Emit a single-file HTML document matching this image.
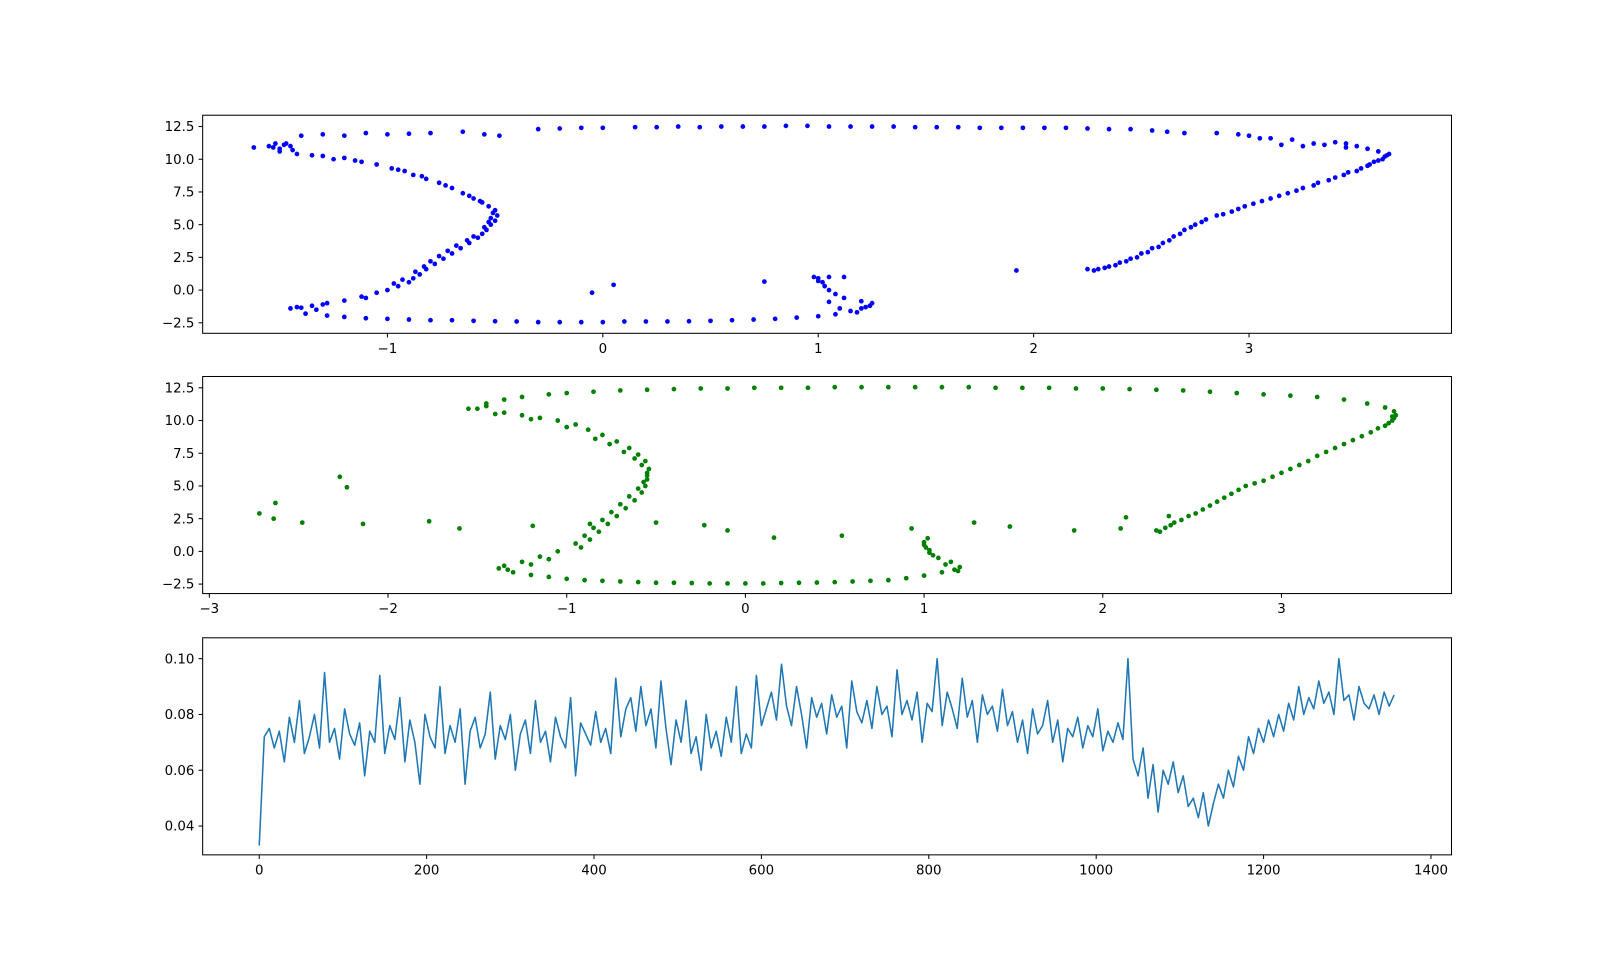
<!DOCTYPE html>
<html><head><meta charset="utf-8"><style>
body{margin:0;background:#fff;}
svg text{font-family:"DejaVu Sans","Liberation Sans",sans-serif;font-size:13px;fill:#000;}
</style></head><body>
<svg id="fig" width="1613" height="961" xmlns="http://www.w3.org/2000/svg"><g id="root" transform="scale(1.0287)"></g></svg>
<script>
// ---- Panel 1 data (blue scatter) ----
const p1x=[-1.62,-1.55,-1.52,-1.5,-1.48,-1.45,-1.5,-1.42,-1.35,-1.3,-1.2,-1.12,-1.05,-0.98,-0.92,-0.88,-0.82,-0.76,-0.7,-0.65,-0.6,-0.56,-0.53,-0.5,-0.49,-0.5,-0.52,-0.54,-0.56,-0.58,-0.62,-0.66,-0.7,-0.74,-0.78,-0.82,-0.85,-0.88,-0.9,-0.95,-1.0,-1.05,-1.12,-1.2,-1.28,-1.35,-1.42,-1.45,-1.38,-1.28,-1.2,-1.1,-1.0,-0.9,-0.8,-0.7,-0.6,-0.5,-0.4,-0.3,-0.2,-0.1,0.0,0.1,0.2,0.3,0.4,0.5,0.6,0.7,0.8,0.9,1.0,1.08,1.15,1.2,1.24,1.25,1.2,1.12,1.08,1.05,1.03,1.02,1.0,0.98,1.05,1.12,
-1.4,-1.3,-1.2,-1.1,-1.0,-0.9,-0.8,-0.65,-0.55,-0.48,-0.3,-0.2,-0.1,0.0,0.15,0.25,0.35,0.45,0.55,0.65,0.75,0.85,0.95,1.05,1.15,1.25,1.35,1.45,1.55,1.65,1.75,1.85,1.95,2.05,2.15,2.25,2.35,2.45,2.55,2.62,2.7,
2.25,2.3,2.35,2.4,2.45,2.5,2.55,2.6,2.65,2.7,2.75,2.8,2.88,2.95,3.02,3.1,3.18,3.25,3.32,3.4,3.46,3.52,3.56,3.6,3.63,3.65,3.6,3.55,3.5,3.45,3.4,3.35,3.25,3.15,3.05,2.95,2.85,3.0,3.1,3.2,3.3,3.45,
-0.05,0.05,0.75,1.92,
-1.47,-1.53,-1.44,-1.25,-1.15,-0.95,-0.84,-0.73,-0.62,-0.57,-0.51,-0.52,-0.53,-0.55,-0.6,-0.63,-0.68,-0.72,-0.76,-0.8,-0.83,-0.87,-0.93,-0.97,-1.1,-1.3,-1.4,-1.33,1.05,1.0,1.1,1.18,1.22,
2.28,2.33,2.38,2.43,2.48,2.53,2.58,2.63,2.68,2.73,2.78,2.85,2.92,2.98,3.06,3.14,3.22,3.3,3.37,3.44,3.5,3.55,3.58,3.62,3.64];
const p1y=[10.9,11.0,11.2,10.8,11.1,11.0,10.6,10.4,10.3,10.25,10.1,9.8,9.6,9.3,9.1,8.8,8.5,8.2,7.8,7.4,7.0,6.7,6.4,6.1,5.7,5.3,5.0,4.6,4.3,4.0,3.6,3.2,2.8,2.4,2.0,1.6,1.2,0.9,0.6,0.3,0.0,-0.2,-0.5,-0.8,-1.0,-1.2,-1.3,-1.4,-1.8,-1.95,-2.05,-2.15,-2.2,-2.25,-2.3,-2.3,-2.35,-2.38,-2.4,-2.45,-2.45,-2.45,-2.45,-2.4,-2.4,-2.4,-2.38,-2.35,-2.3,-2.25,-2.2,-2.1,-2.0,-1.85,-1.6,-1.4,-1.2,-1.0,-0.85,-0.6,-0.3,0.0,0.3,0.6,0.9,1.0,1.0,1.0,
11.8,11.9,11.8,12.0,11.9,11.95,12.0,12.1,11.9,11.8,12.3,12.35,12.4,12.4,12.45,12.45,12.5,12.45,12.5,12.5,12.5,12.55,12.55,12.5,12.5,12.5,12.5,12.45,12.45,12.45,12.4,12.4,12.4,12.4,12.4,12.35,12.3,12.3,12.2,12.1,12.0,
1.6,1.6,1.8,2.1,2.4,2.8,3.2,3.6,4.1,4.6,5.0,5.4,5.8,6.2,6.6,7.0,7.4,7.8,8.2,8.6,9.0,9.3,9.6,9.9,10.2,10.4,10.6,10.8,11.0,11.2,11.3,11.1,11.0,11.1,11.6,11.9,12.0,11.8,11.6,11.5,11.2,10.9,
-0.2,0.4,0.65,1.5,
11.2,10.9,10.7,10.0,9.9,9.2,8.7,8.0,7.2,6.8,5.9,5.5,5.2,4.8,4.1,3.8,3.4,3.0,2.6,2.2,1.8,1.4,0.8,0.5,-0.6,-1.1,-1.35,-1.5,-0.9,0.7,-1.4,-1.7,-1.3,
1.5,1.7,1.9,2.2,2.5,2.9,3.3,3.8,4.3,4.8,5.2,5.7,6.0,6.4,6.8,7.2,7.6,8.0,8.4,8.8,9.1,9.5,9.8,10.0,10.3];
// ---- Panel 2 data (green scatter) ----
const p2x=[-1.55,-1.5,-1.45,-1.35,-1.25,-1.15,-1.05,-0.95,-0.88,-0.8,-0.72,-0.65,-0.6,-0.56,-0.54,-0.55,-0.57,-0.6,-0.65,-0.7,-0.75,-0.8,-0.85,-0.9,-0.95,-1.05,-1.15,-1.25,-1.35,-1.38,-1.3,-1.2,-1.1,-1.0,-0.9,-0.8,-0.7,-0.6,-0.5,-0.4,-0.3,-0.2,-0.1,0.0,0.1,0.2,0.3,0.4,0.5,0.6,0.7,0.8,0.9,1.0,1.1,1.17,1.2,1.15,1.08,1.03,1.01,1.0,1.02,
-1.45,-1.35,-1.25,-1.1,-1.0,-0.85,-0.7,-0.55,-0.4,-0.25,-0.1,0.05,0.2,0.35,0.5,0.65,0.8,0.95,1.1,1.25,1.4,1.55,1.7,1.85,2.0,2.15,2.3,2.45,2.6,2.75,2.9,3.05,3.2,3.35,3.48,3.58,3.63,3.62,
2.3,2.35,2.4,2.48,2.56,2.64,2.72,2.8,2.9,3.0,3.1,3.2,3.3,3.4,3.5,3.58,3.62,3.64,
-2.72,-2.63,-2.64,-2.48,-2.27,-2.23,-2.14,-1.77,-1.6,-1.19,-0.87,-0.5,-0.23,-0.1,0.16,0.54,0.93,1.28,1.48,1.84,2.1,2.13,2.37,
-1.4,-1.2,-1.0,-0.84,-0.76,-0.68,-0.62,-0.58,-0.55,-0.55,-0.56,-0.58,-0.62,-0.67,-0.72,-0.77,-0.82,-0.87,-0.92,-1.1,-1.2,-1.33,1.0,1.03,1.05,1.12,1.19,
2.32,2.38,2.44,2.52,2.6,2.68,2.76,2.85,2.95,3.05,3.15,3.25,3.35,3.45,3.54,3.6,3.63];
const p2y=[10.9,10.9,11.1,10.6,10.4,10.2,10.0,9.7,9.3,8.9,8.4,7.9,7.4,6.9,6.3,5.8,5.3,4.8,4.2,3.6,3.0,2.4,1.8,1.2,0.6,0.0,-0.4,-0.8,-1.1,-1.3,-1.6,-1.8,-1.95,-2.1,-2.2,-2.25,-2.3,-2.35,-2.4,-2.4,-2.42,-2.45,-2.45,-2.45,-2.45,-2.42,-2.4,-2.38,-2.35,-2.3,-2.25,-2.2,-2.05,-1.85,-1.6,-1.4,-1.2,-0.8,-0.5,-0.1,0.3,0.7,1.0,
11.3,11.6,11.8,12.0,12.1,12.2,12.3,12.35,12.4,12.45,12.45,12.5,12.5,12.5,12.55,12.55,12.55,12.55,12.55,12.55,12.5,12.5,12.5,12.45,12.45,12.4,12.35,12.3,12.2,12.1,12.0,11.9,11.8,11.6,11.3,11.0,10.7,10.3,
1.6,1.8,2.2,2.7,3.2,3.8,4.4,5.0,5.4,6.0,6.6,7.3,7.9,8.5,9.1,9.6,10.0,10.4,
2.9,3.7,2.5,2.2,5.7,4.9,2.1,2.3,1.75,1.95,2.1,2.2,2.0,1.6,1.05,1.2,1.75,2.2,1.9,1.6,1.75,2.6,2.7,
10.5,10.1,9.5,8.6,8.2,7.6,7.1,6.6,6.0,5.5,5.0,4.5,3.9,3.3,2.7,2.1,1.5,0.9,0.3,-0.6,-1.0,-1.4,0.5,0.1,-0.3,-1.0,-1.5,
1.5,2.0,2.4,2.9,3.5,4.1,4.7,5.2,5.7,6.3,6.9,7.6,8.2,8.8,9.4,9.8,10.2];
// ---- Panel 3 data (line) ----
const p3step=6;
const p3v=[0.033,0.072,0.075,0.068,0.074,0.063,0.079,0.07,0.085,0.066,0.072,0.08,0.068,0.095,0.07,0.075,0.064,0.082,0.073,0.069,0.077,0.058,0.074,0.07,0.094,0.066,0.076,0.071,0.086,0.063,0.078,0.07,0.055,0.08,0.072,0.068,0.09,0.066,0.076,0.07,0.082,0.055,0.074,0.079,0.068,0.073,0.088,0.064,0.076,0.071,0.08,0.06,0.073,0.078,0.066,0.085,0.07,0.074,0.063,0.079,0.072,0.068,0.086,0.058,0.077,0.073,0.069,0.081,0.07,0.075,0.066,0.093,0.072,0.082,0.086,0.074,0.09,0.076,0.082,0.068,0.092,0.075,0.062,0.078,0.07,0.085,0.066,0.072,0.06,0.08,0.068,0.074,0.065,0.079,0.07,0.09,0.066,0.073,0.068,0.094,0.076,0.082,0.088,0.078,0.098,0.083,0.076,0.09,0.08,0.068,0.086,0.079,0.084,0.073,0.087,0.079,0.083,0.068,0.092,0.081,0.077,0.085,0.075,0.09,0.08,0.083,0.072,0.096,0.08,0.085,0.078,0.088,0.07,0.084,0.081,0.1,0.076,0.088,0.082,0.075,0.093,0.079,0.085,0.07,0.087,0.08,0.083,0.074,0.089,0.076,0.081,0.07,0.078,0.066,0.082,0.073,0.076,0.085,0.07,0.078,0.063,0.075,0.072,0.079,0.068,0.076,0.072,0.082,0.067,0.074,0.07,0.077,0.071,0.1,
0.064,0.058,0.068,0.05,0.062,0.045,0.06,
0.055,0.063,0.052,0.058,
0.047,0.05,0.043,0.052,0.04,0.048,
0.055,0.05,0.06,0.054,0.065,
0.06,0.072,0.066,0.075,0.07,
0.078,0.072,0.08,0.074,0.084,0.078,0.09,0.08,
0.086,0.082,0.092,0.084,0.088,0.08,0.1,0.085,0.087,0.078,0.09,0.084,0.082,0.087,0.08,0.088,0.083,0.087];
const p1xt=[-1,0,1,2,3], p1yt=[-2.5,0,2.5,5,7.5,10,12.5];
const p2xt=[-3,-2,-1,0,1,2,3], p2yt=p1yt;
const p3xt=[0,200,400,600,800,1000,1200,1400], p3yt=[0.04,0.06,0.08,0.10];

const NS='http://www.w3.org/2000/svg', svg=document.getElementById('root');
function mk(t,a,p){const e=document.createElementNS(NS,t);for(const k in a)e.setAttribute(k,a[k]);(p||svg).appendChild(e);return e;}
function axes(name,L,T,R,B,sx,sy,xt,yt,xdec,ydec){
  const g=mk('g',{});
  
  
  const fr=mk('rect',{x:L,y:T,width:R-L,height:B-T,fill:'none',stroke:'#000','stroke-width':1},g);
  
  
  xt.forEach(v=>{const x=sx(v);mk('line',{x1:x,x2:x,y1:B,y2:B+4,stroke:'#000'},g);
    const t=mk('text',{x:x,y:B+19,'text-anchor':'middle'},g);t.textContent=(v<0?'\u2212':'')+Math.abs(v).toFixed(xdec);
    
    });
  yt.forEach(v=>{const y=sy(v);mk('line',{x1:L-4,x2:L,y1:y,y2:y,stroke:'#000'},g);
    const t=mk('text',{x:L-8,y:y+4.5,'text-anchor':'end'},g);t.textContent=(v<0?'\u2212':'')+Math.abs(v).toFixed(ydec);
    
    });
  return g;
}
// Panel 1
{const sx=v=>586+v*209.4, sy=v=>282-v*12.72;
 axes('top-scatter-axes',197,112,1411,324,sx,sy,p1xt,p1yt,0,1);
 const g=mk('g',{fill:'#0000ff'});
 
 
 p1x.forEach((x,i)=>{const c=mk('circle',{cx:sx(x),cy:sy(p1y[i]),r:2.3},g);
   
   });}
// Panel 2
{const sx=v=>724.6+v*173.7, sy=v=>536-v*12.72;
 axes('middle-scatter-axes',197,366,1411,577,sx,sy,p2xt,p2yt,0,1);
 const g=mk('g',{fill:'#008000'});
 
 
 p2x.forEach((x,i)=>{const c=mk('circle',{cx:sx(x),cy:sy(p2y[i]),r:2.3},g);
   
   });}
// Panel 3
{const sx=v=>252+v*0.8136, sy=v=>803-(v-0.04)*2712;
 axes('bottom-line-axes',197,620,1411,831,sx,sy,p3xt,p3yt,0,2);
 const pts=p3v.map((v,i)=>sx(Math.min(i*p3step,1357)).toFixed(1)+','+sy(v).toFixed(1)).join(' ');
 const pl=mk('polyline',{points:pts,fill:'none',stroke:'#1f77b4','stroke-width':1.5,'stroke-linejoin':'round'});
 
 }
</script>
</body></html>
